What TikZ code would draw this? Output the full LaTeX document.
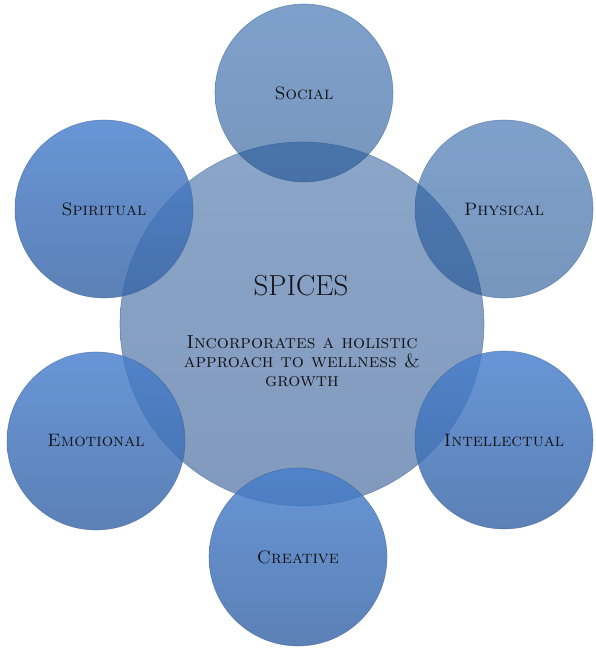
\documentclass[tikz,border=0pt]{standalone}
\definecolor{hubtop}{RGB}{90,128,178}
\definecolor{hubbot}{RGB}{75,110,160}
\definecolor{ringtop}{RGB}{70,126,205}
\definecolor{ringbot}{RGB}{56,101,166}
\definecolor{paletop}{RGB}{40,98,168}
\definecolor{palebot}{RGB}{28,80,145}
\definecolor{rimblue}{RGB}{55,90,140}
\definecolor{inktext}{RGB}{20,20,24}
\begin{document}
\begin{tikzpicture}[x=1pt,y=-1pt,
    hub/.style={circle, inner sep=0pt, minimum size=364pt,
          top color=hubtop, bottom color=hubbot, fill opacity=0.7,
          draw=rimblue, draw opacity=0.5, line width=0.6pt},
    area/.style={circle, inner sep=0pt, minimum size=178pt,
          top color=ringtop, bottom color=ringbot, fill opacity=0.82,
          draw=rimblue, draw opacity=0.5, line width=0.6pt,
          text opacity=1, text=inktext,
          font=\fontsize{18}{21}\selectfont\scshape},
    pale/.style={area, top color=paletop, bottom color=palebot, fill opacity=0.6}]
    \useasboundingbox (0,0) rectangle (596,650);
    % middle circle
    \node[hub] (spices) at (302,324) {};
    \node[text=inktext, font=\fontsize{29}{32}\selectfont] (title) at (301,286) {SPICES};
    \node[text=inktext, align=center, font=\fontsize{19}{19}\selectfont\scshape] (about) at (302,361)
      {Incorporates a holistic\\approach to wellness \&\\growth};
    % the six areas round it
    \node[pale] (social) at (304,93) {Social};
    \node[pale] (physical) at (504,209) {Physical};
    \node[area] (intellectual) at (504,440) {Intellectual};
    \node[area] (creative) at (298,557) {Creative};
    \node[area] (emotional) at (96,441) {Emotional};
    \node[area] (spiritual) at (104,209) {Spiritual};
  \end{tikzpicture}
\end{document}
